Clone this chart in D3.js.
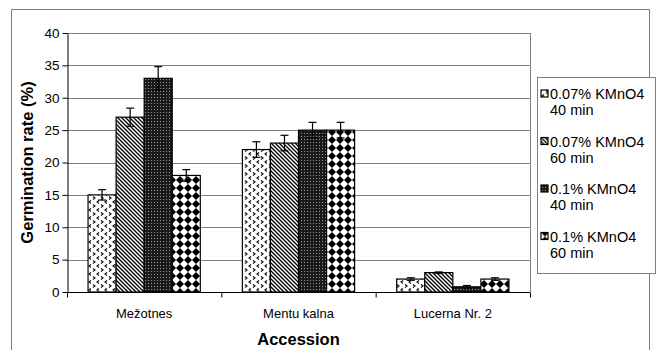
<!DOCTYPE html>
<html>
<head>
<meta charset="utf-8">
<script src="https://cdn.jsdelivr.net/npm/d3@7"></script>
<style>
  body { margin: 0; background: #fff; }
  svg { display: block; font-family: "Liberation Sans", Arial, sans-serif; }
</style>
</head>
<body>
<div id="chart"></div>
<script>
// chart data
var categories = ["Mežotnes", "Mentu kalna", "Lucerna Nr. 2"];
var seriesNames = ["0.07% KMnO4|40 min", "0.07% KMnO4|60 min", "0.1% KMnO4|40 min", "0.1% KMnO4|60 min"];
var s1Values = [15, 22, 2];
var s2Values = [27, 23, 3];
var s3Values = [33, 25, 0.8];
var s4Values = [18, 25, 2];
var s1Errors = [0.8, 1.2, 0.2];
var s2Errors = [1.4, 1.2, 0.1];
var s3Errors = [1.8, 1.2, 0.2];
var s4Errors = [0.9, 1.2, 0.2];
var yTicks = [0, 5, 10, 15, 20, 25, 30, 35, 40];

var allValues = [s1Values, s2Values, s3Values, s4Values];
var allErrors = [s1Errors, s2Errors, s3Errors, s4Errors];

var width = 659, height = 350;
var plot = { left: 67, right: 530, top: 33, bottom: 292 };

var svg = d3.select("#chart").append("svg")
    .attr("width", width)
    .attr("height", height);

// fill patterns, one per series
var defs = svg.append("defs");

var p1 = defs.append("pattern").attr("id", "pat0")
    .attr("patternUnits", "userSpaceOnUse").attr("width", 8).attr("height", 8);
p1.append("rect").attr("width", 8).attr("height", 8).attr("fill", "#fff");
p1.append("path").attr("d", "M3,0.5 L1,2 L3,3.5").attr("fill", "none").attr("stroke", "#000").attr("stroke-width", 1.1);
p1.append("path").attr("d", "M5,4.5 L7,6 L5,7.5").attr("fill", "none").attr("stroke", "#000").attr("stroke-width", 1.1);

var p2 = defs.append("pattern").attr("id", "pat1")
    .attr("patternUnits", "userSpaceOnUse").attr("width", 4).attr("height", 4);
p2.append("rect").attr("width", 4).attr("height", 4).attr("fill", "#fff");
p2.append("path").attr("d", "M-1,-1 L5,5 M-1,3 L1,5 M3,-1 L5,1")
    .attr("stroke", "#000").attr("stroke-width", 1.3);

var p3 = defs.append("pattern").attr("id", "pat2")
    .attr("patternUnits", "userSpaceOnUse").attr("width", 3).attr("height", 3);
p3.append("rect").attr("width", 3).attr("height", 3).attr("fill", "#1a1a1a");
p3.append("rect").attr("x", 1).attr("y", 1).attr("width", 1).attr("height", 1).attr("fill", "#9a9a9a");

var p4 = defs.append("pattern").attr("id", "pat3")
    .attr("patternUnits", "userSpaceOnUse").attr("width", 8).attr("height", 8);
p4.append("rect").attr("width", 8).attr("height", 8).attr("fill", "#fff");
p4.append("path").attr("d", "M4,0 L8,4 L4,8 L0,4 Z").attr("fill", "#000");

// outer chart border
svg.append("rect")
    .attr("x", 11.5).attr("y", 9.5)
    .attr("width", 638).attr("height", 360)
    .attr("fill", "none").attr("stroke", "#808080");

var x0 = d3.scaleBand()
    .domain(categories)
    .range([plot.left, plot.right]);

var x1 = d3.scaleBand()
    .domain(d3.range(seriesNames.length))
    .range([0, x0.bandwidth()])
    .paddingOuter(0.75);

var y = d3.scaleLinear()
    .domain([0, 40])
    .range([plot.bottom, plot.top]);

// gridlines
svg.append("g").selectAll("line")
    .data(yTicks.filter(function(d) { return d > 0; }))
    .enter().append("line")
    .attr("x1", plot.left).attr("x2", plot.right)
    .attr("y1", function(d) { return Math.round(y(d)) + 0.5; })
    .attr("y2", function(d) { return Math.round(y(d)) + 0.5; })
    .attr("stroke", "#808080");

svg.append("line")
    .attr("x1", plot.right + 0.5).attr("x2", plot.right + 0.5)
    .attr("y1", plot.top).attr("y2", plot.bottom)
    .attr("stroke", "#808080");

// bars
var rows = [];
categories.forEach(function(cat, ci) {
    allValues.forEach(function(vals, si) {
        rows.push({ cat: cat, s: si, value: vals[ci], err: allErrors[si][ci] });
    });
});

svg.append("g").selectAll("rect")
    .data(rows)
    .enter().append("rect")
    .attr("x", function(d) { return x0(d.cat) + x1(d.s); })
    .attr("y", function(d) { return y(d.value); })
    .attr("width", x1.bandwidth())
    .attr("height", function(d) { return y(0) - y(d.value); })
    .attr("fill", function(d) { return "url(#pat" + d.s + ")"; })
    .attr("stroke", "#000")
    .attr("stroke-width", 1.2);

// error bars
var eb = svg.append("g").attr("stroke", "#000").attr("stroke-width", 1.2);
rows.forEach(function(d) {
    var cx = x0(d.cat) + x1(d.s) + x1.bandwidth() / 2;
    eb.append("line").attr("x1", cx).attr("x2", cx)
        .attr("y1", y(d.value - d.err)).attr("y2", y(d.value + d.err));
    [d.value - d.err, d.value + d.err].forEach(function(v) {
        eb.append("line").attr("x1", cx - 4).attr("x2", cx + 4)
            .attr("y1", y(v)).attr("y2", y(v));
    });
});

// axes
var yAxis = d3.axisLeft(y).tickValues(yTicks).tickSize(5).tickSizeOuter(0);
var gy = svg.append("g")
    .attr("transform", "translate(" + (plot.left + 0.5) + ",0)")
    .call(yAxis);
gy.select(".domain").attr("stroke", "#000");
gy.selectAll(".tick line").attr("stroke", "#000");
gy.selectAll("text").attr("font-size", 13.5).attr("fill", "#000")
    .attr("font-family", "Liberation Sans, Arial, sans-serif");

var xAxis = d3.axisBottom(x0).tickSize(0);
var gx = svg.append("g")
    .attr("transform", "translate(0," + (plot.bottom + 0.5) + ")")
    .call(xAxis);
gx.select(".domain").attr("stroke", "#000").attr("d", "M" + plot.left + ",0H" + plot.right);
gx.selectAll("text").attr("font-size", 13).attr("fill", "#000").attr("dy", "1.7em")
    .attr("font-family", "Liberation Sans, Arial, sans-serif");
gx.selectAll(".sep")
    .data(categories.concat(["end"]))
    .enter().append("line")
    .attr("class", "sep")
    .attr("x1", function(d, i) { return plot.left + i * x0.bandwidth() + 0.5; })
    .attr("x2", function(d, i) { return plot.left + i * x0.bandwidth() + 0.5; })
    .attr("y1", 0).attr("y2", 5)
    .attr("stroke", "#000");

// axis titles
svg.append("text")
    .attr("transform", "translate(33," + ((plot.top + plot.bottom) / 2) + ") rotate(-90)")
    .attr("text-anchor", "middle")
    .attr("font-size", 16.5).attr("font-weight", "bold")
    .text("Germination rate (%)");

svg.append("text")
    .attr("x", (plot.left + plot.right) / 2)
    .attr("y", 345)
    .attr("text-anchor", "middle")
    .attr("font-size", 16.5).attr("font-weight", "bold")
    .text("Accession");

// legend
var legend = svg.append("g");
legend.append("rect")
    .attr("x", 537.5).attr("y", 77.5)
    .attr("width", 118).attr("height", 196)
    .attr("fill", "#fff").attr("stroke", "#808080");

var items = legend.selectAll(".item")
    .data(seriesNames)
    .enter().append("g")
    .attr("class", "item")
    .attr("transform", function(d, i) { return "translate(541," + (94 + i * 47.5) + ")"; });

items.append("rect")
    .attr("x", 0).attr("y", -4)
    .attr("width", 7).attr("height", 7)
    .attr("fill", function(d, i) { return "url(#pat" + i + ")"; })
    .attr("stroke", "#000").attr("stroke-width", 1.2);

items.append("text")
    .attr("x", 9).attr("y", 5)
    .attr("font-size", 14.5)
    .text(function(d) { return d.split("|")[0]; });

items.append("text")
    .attr("x", 9).attr("y", 21)
    .attr("font-size", 14.5)
    .text(function(d) { return d.split("|")[1]; });
</script>
</body>
</html>
